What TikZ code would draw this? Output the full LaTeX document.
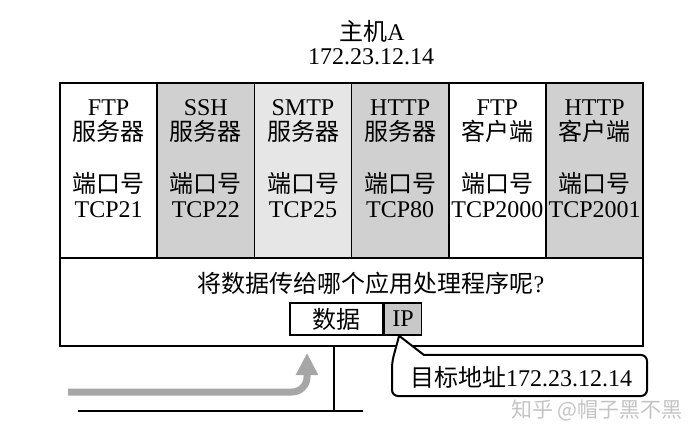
\documentclass[tikz,border=0pt]{standalone}
\usepackage{fontspec}
\setmainfont{Liberation Serif}
\newfontfamily\cjk{Noto Sans CJK SC}
\usetikzlibrary{arrows.meta}
\definecolor{gA}{HTML}{D0D0D0}
\definecolor{gB}{HTML}{E6E6E6}
\definecolor{gIP}{HTML}{C8C8C8}
\definecolor{gArr}{HTML}{A6A6A6}
\definecolor{gWm}{HTML}{C4C4C4}
\begin{document}
\begin{tikzpicture}[x=1pt,y=-1pt,
  txt/.style={inner sep=0pt, align=center, font=\fontsize{24}{25}\selectfont},
  cell/.style={draw, line width=1.6pt, minimum width=97.2pt, minimum height=175pt, inner sep=0pt},
  frame/.style={draw, line width=2.2pt},
  bus/.style={line width=2.4pt},
  pkt/.style={draw, line width=1.6pt, minimum height=32pt, inner sep=0pt, font=\fontsize{24}{25}\selectfont},
  flow/.style={line width=7pt, draw=gArr, -{Triangle[width=21pt,length=22pt]}}
]
\useasboundingbox (0,0) rectangle (699,438);
\fill[white] (0,0) rectangle (699,438);

% title
\node[txt] (title) at (372,31) {{\cjk 主机}A};
\node[txt] (hostip) at (371,57) {172.23.12.14};

% columns
\node[cell, fill=white] (c1) at (108.6,170.5) {};
\node[cell, fill=gA]    (c2) at (205.8,170.5) {};
\node[cell, fill=gB]    (c3) at (303.0,170.5) {};
\node[cell, fill=gA]    (c4) at (400.2,170.5) {};
\node[cell, fill=white] (c5) at (497.4,170.5) {};
\node[cell, fill=gA]    (c6) at (594.6,170.5) {};

\node[txt] (n1) at (108.6,121) {FTP\\{\cjk 服务器}};
\node[txt] (n2) at (205.8,121) {SSH\\{\cjk 服务器}};
\node[txt] (n3) at (303.0,121) {SMTP\\{\cjk 服务器}};
\node[txt] (n4) at (400.2,121) {HTTP\\{\cjk 服务器}};
\node[txt] (n5) at (497.4,121) {FTP\\{\cjk 客户端}};
\node[txt] (n6) at (594.6,121) {HTTP\\{\cjk 客户端}};

\node[txt] (p1) at (108.6,195) {{\cjk 端口号}\\TCP21};
\node[txt] (p2) at (205.8,195) {{\cjk 端口号}\\TCP22};
\node[txt] (p3) at (303.0,195) {{\cjk 端口号}\\TCP25};
\node[txt] (p4) at (400.2,195) {{\cjk 端口号}\\TCP80};
\node[txt] (p5) at (497.4,195) {{\cjk 端口号}\\TCP2000};
\node[txt] (p6) at (594.6,195) {{\cjk 端口号}\\TCP2001};

% outer host frame
\node[frame, minimum width=583pt, minimum height=263pt, inner sep=0pt] (host) at (351.5,214.5) {};

\node[txt] (question) at (371,283) {{\cjk 将数据传给哪个应用处理程序呢}?};

% packet
\node[pkt, fill=white, minimum width=93pt] (data) at (336.5,319) {\cjk 数据};
\node[pkt, fill=gIP, minimum width=37pt, anchor=west] (ip) at (data.east) {IP};

% network bus
\coordinate (bl) at (78,411);
\coordinate (br) at (363,411);
\coordinate (bt) at (334,411);
\draw[bus] (bl) -- (br);
\draw[bus] (host.south -| bt) -- (bt);

% incoming flow
\coordinate (fs) at (68,392);
\coordinate (fe) at (307,353);
\draw[flow] (fs) -- (292,392) to[out=0,in=-90] (307,377) -- (fe);

% callout
\node[txt] (ctext) at (521,377) {{\cjk 目标地址}172.23.12.14};
\coordinate (tip) at ([xshift=-4pt]ip.south);
\draw[line width=2pt, fill=white] (tip) -- (424,355) [rounded corners=6pt] -- (647,355) -- (647,396) -- (392,396) -- (392,362) [sharp corners] -- cycle;
\node[txt] at (ctext) {{\cjk 目标地址}172.23.12.14};

% watermark
\node[inner sep=0pt, text=gWm, font=\cjk\fontsize{21}{22}\selectfont] (wm) at (597,410) {知乎 @帽子黑不黑};
\end{tikzpicture}
\end{document}
